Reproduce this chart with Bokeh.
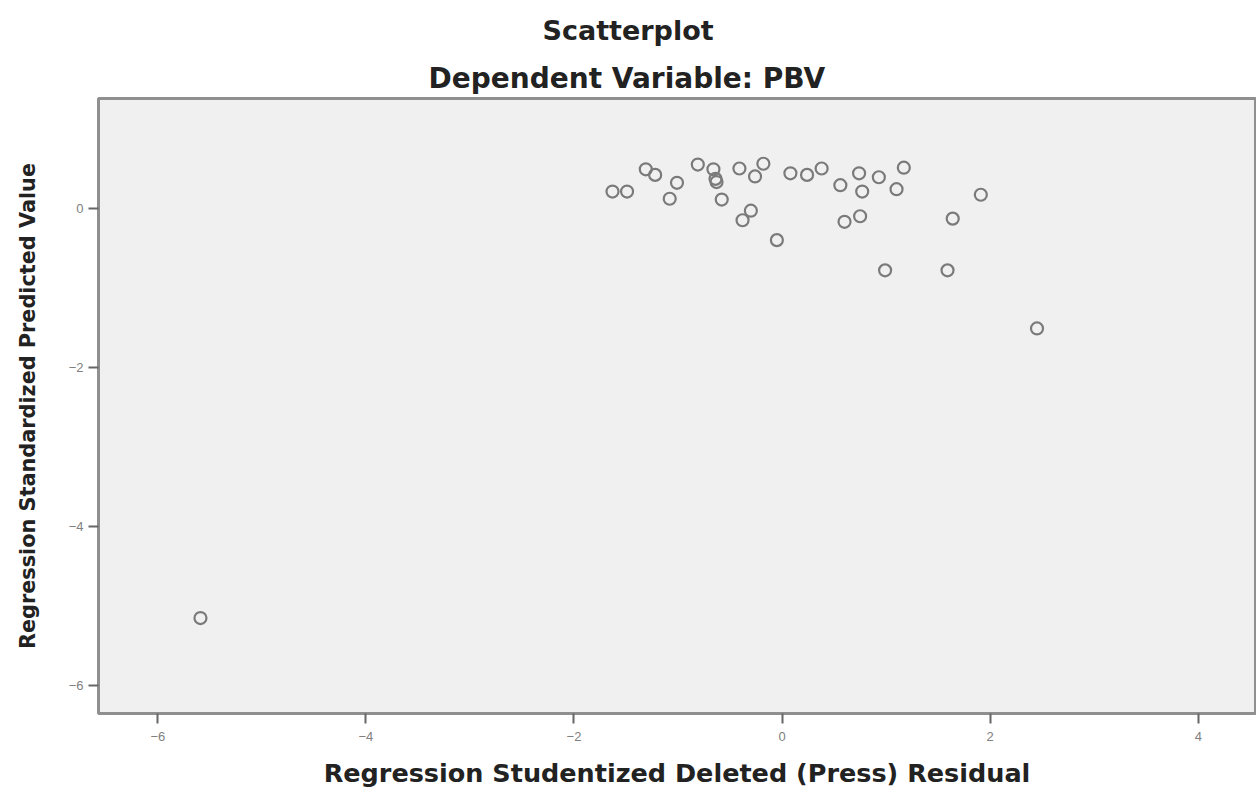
from bokeh.plotting import figure
from bokeh.models import ColumnDataSource, FixedTicker, Range1d, Title
from bokeh.embed import file_html
from bokeh.resources import INLINE

# --- data ---
title_main = "Scatterplot"
title_sub = "Dependent Variable: PBV"
x_label = "Regression Studentized Deleted (Press) Residual"
y_label = "Regression Standardized Predicted Value"

studentized_deleted_residual = [
    -1.63, -1.49, -1.31, -1.22, -1.01, -1.08, -0.81, -0.66, -0.63, -0.64,
    -0.58, -0.41, -0.18, -0.26, -0.30, -0.38, -0.05, 0.08, 0.24, 0.38,
    0.56, 0.74, 0.77, 0.93, 1.10, 1.17, 0.60, 0.75, 1.91, 1.64,
    0.99, 1.59, 2.45, -5.59,
]
standardized_predicted = [
    0.21, 0.21, 0.49, 0.42, 0.32, 0.12, 0.55, 0.49, 0.33, 0.37,
    0.11, 0.50, 0.56, 0.40, -0.03, -0.15, -0.40, 0.44, 0.42, 0.50,
    0.29, 0.44, 0.21, 0.39, 0.24, 0.51, -0.17, -0.10, 0.17, -0.13,
    -0.78, -0.78, -1.51, -5.15,
]
x_ticks = [-6, -4, -2, 0, 2, 4]
y_ticks = [-6, -4, -2, 0]

src = ColumnDataSource(dict(x=studentized_deleted_residual, y=standardized_predicted))

p = figure(
    width=1256, height=790,
    output_backend="svg", toolbar_location=None,
    x_range=Range1d(-6.57, 4.55), y_range=Range1d(-6.35, 1.38),
    min_border_left=98, min_border_right=1, min_border_top=98, min_border_bottom=77,
    background_fill_color="#f0f0f0", border_fill_color="white",
)
p.outline_line_color = "#8f8f8f"
p.outline_line_width = 3
p.grid.visible = False

# titles (later-added title is placed further above); positioned so that they
# are centred on the whole canvas rather than on the plot frame
p.add_layout(Title(text=title_sub, align="left", offset=330, text_font="DejaVu Sans",
                   text_font_size="28px", text_font_style="bold",
                   text_color="#222222", standoff=8), "above")
p.add_layout(Title(text=title_main, align="left", offset=444, text_font="DejaVu Sans",
                   text_font_size="27px", text_font_style="bold",
                   text_color="#222222", standoff=20), "above")

for ax in (p.xaxis[0], p.yaxis[0]):
    ax.axis_line_color = None
    ax.major_tick_line_color = "#666666"
    ax.major_tick_line_width = 2
    ax.major_tick_out = 10
    ax.major_tick_in = 0
    ax.minor_tick_line_color = None
    ax.major_label_text_font = "Liberation Sans"
    ax.major_label_text_font_size = "13px"
    ax.major_label_text_color = "#808080"
    ax.axis_label_text_font = "DejaVu Sans"
    ax.axis_label_text_font_style = "bold"
    ax.axis_label_text_color = "#222222"

p.xaxis.ticker = FixedTicker(ticks=x_ticks)
p.yaxis.ticker = FixedTicker(ticks=y_ticks)
p.xaxis.axis_label = x_label
p.yaxis.axis_label = y_label
p.xaxis.axis_label_text_font_size = "25.5px"
p.yaxis.axis_label_text_font_size = "20.8px"
p.xaxis.major_label_standoff = 8
p.yaxis.major_label_standoff = 5
p.xaxis.axis_label_standoff = 14
p.yaxis.axis_label_standoff = 26

p.scatter("x", "y", source=src, marker="circle", size=12,
          fill_color=None, line_color="#7a7a7a", line_width=2.2)

open("out.html", "w").write(file_html(p, INLINE))
